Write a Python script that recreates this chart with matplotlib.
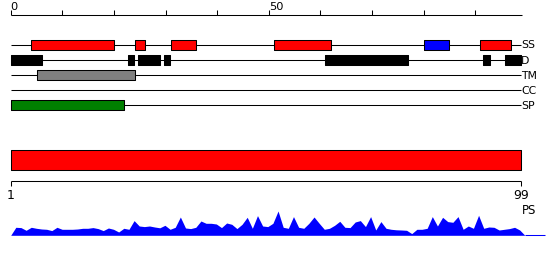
import matplotlib
matplotlib.use('Agg')
import matplotlib.pyplot as plt
import numpy as np

# feature tracks, positions on the 0..99 ruler
tracks = ['SS', 'D', 'TM', 'CC', 'SP']
ss_red = [(4, 20), (24, 26), (31, 36), (51, 62), (91, 97)]
ss_blue = [(80, 85)]
d_black = [(0, 6), (22.7, 23.8), (24.7, 28.9), (29.7, 30.8), (61, 77), (91.6, 92.9), (95.7, 98.8)]
tm_gray = [(5, 24)]
cc_segs = []
sp_green = [(0, 22)]
seq_len = 99
top_ticks = list(range(0, 100, 10))
top_labels = {0: '0', 50: '50'}

# PS section, positions on the 1..99 ruler
ps_range = (1, 99)
ps_ticklabels = ['1', '99']
ps_profile = [8, 7.7, 5, 8, 7, 6.3, 6, 4.7, 8, 6,
              6, 6, 6.3, 7, 7, 7.7, 6.7, 4.7, 7.3, 6,
              3.3, 7, 6, 14.7, 9.3, 8.7, 9.3, 8.3, 7.5, 10,
              6, 8, 18.3, 7.3, 6.7, 8, 14.3, 12, 12, 11.3,
              7.7, 12.3, 11, 6.7, 11, 18, 7, 19.7, 9.3, 8.7,
              12, 24.3, 8, 7, 18.7, 8, 7, 12, 18.3, 12,
              6, 7, 10, 14, 8, 7.7, 13.3, 14.7, 8.7, 18.7,
              5.3, 13.7, 7, 6, 5.5, 5.3, 5, 1.7, 6, 6,
              7, 18.7, 9.3, 18, 13.7, 13, 18.7, 6, 9.3, 7,
              20, 7, 8.3, 8, 5.3, 6, 6.7, 8, 5.3]

W, H = 550, 260
fig = plt.figure(figsize=(W / 100, H / 100), dpi=100)

# top axes: x = residue (0..99), y = pixel rows
ax = fig.add_axes([0, 0, 1, 1])
x0, sc = 10.7, 5.16
ax.set_xlim(-x0 / sc, (W - x0) / sc)
ax.set_ylim(H, 0)
ax.axis('off')

lw = 0.75
ax.hlines(14.7, 0, seq_len, color='black', lw=lw)
ax.vlines(top_ticks, 9.5, 14.7, color='black', lw=lw)
for t, s in top_labels.items():
    ax.text(t, 10.2, s, ha='left', va='baseline', fontsize=8.2)

row_y = [45, 60.3, 75.3, 90, 105.3]
row_segs = [[(ss_red, 'red'), (ss_blue, 'blue')],
            [(d_black, 'black')],
            [(tm_gray, 'gray')],
            [(cc_segs, 'yellow')],
            [(sp_green, 'green')]]
for name, y, segs in zip(tracks, row_y, row_segs):
    ax.hlines(y, 0, 98.9, color='black', lw=lw, zorder=1)
    for lst, col in segs:
        if lst:
            ax.broken_barh([(a, b - a) for a, b in lst], (y - 5, 10),
                           facecolors=col, edgecolors='black', lw=lw, zorder=2)
    ax.text(98.9, y + 0.5, name, ha='left', va='center', fontsize=7.8)

# bottom axes: x = 1..99 ruler
bx = fig.add_axes([0, 0, 1, 1])
bx.patch.set_alpha(0)
sc2 = 5.204
bx.set_xlim(ps_range[0] - x0 / sc2, ps_range[0] + (W - x0) / sc2)
bx.set_ylim(H, 0)
bx.axis('off')

bx.broken_barh([(ps_range[0], ps_range[1] - ps_range[0])], (150.3, 20),
               facecolors='red', edgecolors='black', lw=lw)
bx.hlines(180.7, ps_range[0], ps_range[1], color='black', lw=lw)
bx.vlines(ps_range, 180.7, 185.5, color='black', lw=lw)
for v, s in zip(ps_range, ps_ticklabels):
    bx.text(v, 195.5, s, ha='center', va='center', fontsize=9)
bx.text(ps_range[1] + 0.2, 211, 'PS', ha='left', va='center', fontsize=8.5)

base = 235.3
px = np.linspace(1, 99.8, len(ps_profile) + 2)
py = np.array([0] + ps_profile + [0])
bx.fill_between(px, base, base - py, color='blue', lw=0)
bx.hlines(base, px[-1], 103.6, color='blue', lw=lw)

fig.savefig('out.png', dpi=100)
